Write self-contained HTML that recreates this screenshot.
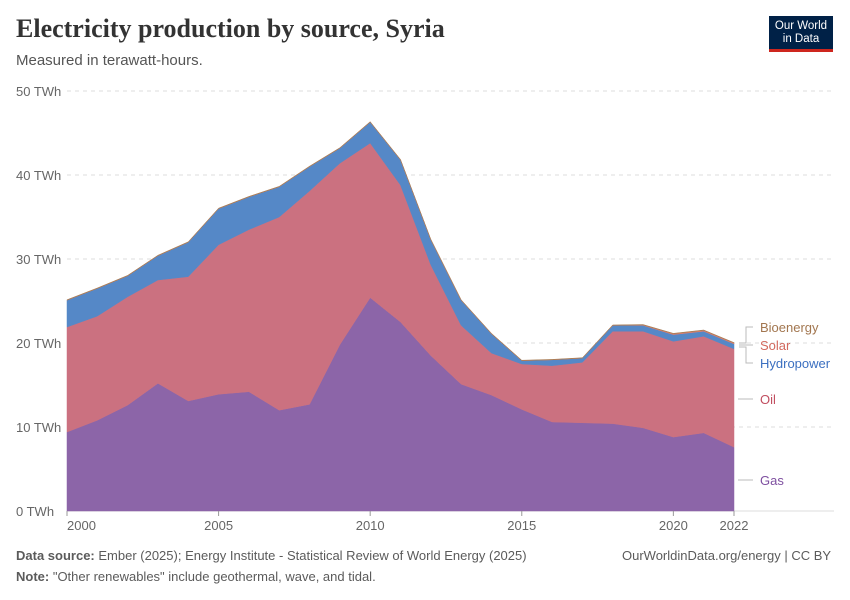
<!DOCTYPE html>
<html><head><meta charset="utf-8">
<style>
body{margin:0;background:#fff;font-family:"Liberation Sans",sans-serif;}
#wrap{position:relative;width:850px;height:600px;overflow:hidden;}
.title{position:absolute;left:16px;top:14px;font-family:"Liberation Serif",serif;font-size:26px;color:#333;font-weight:bold;}
.sub{position:absolute;left:16px;top:52px;font-size:15px;color:#555;}
.logo{position:absolute;left:769px;top:16px;width:64px;height:36px;background:#002147;color:#fff;font-size:11.5px;text-align:center;line-height:13px;padding-top:4px;box-sizing:border-box;border-bottom:3px solid #ce261e;}
.foot{position:absolute;font-size:13px;color:#5b5b5b;}
</style></head><body>
<div id="wrap">
<div class="title">Electricity production by source, Syria</div>
<div class="sub">Measured in terawatt-hours.</div>
<div class="logo">Our World<br>in Data</div>
<svg id="chart" width="850" height="600" style="position:absolute;left:0;top:0"></svg>
<div class="foot" style="left:16px;top:548px"><b>Data source:</b> Ember (2025); Energy Institute - Statistical Review of World Energy (2025)</div>
<div class="foot" style="left:622px;top:548px">OurWorldinData.org/energy | CC BY</div>
<div class="foot" style="left:16px;top:569px"><b>Note:</b> "Other renewables" include geothermal, wave, and tidal.</div>
</div>
<script>
const years=[2000,2001,2002,2003,2004,2005,2006,2007,2008,2009,2010,2011,2012,2013,2014,2015,2016,2017,2018,2019,2020,2021,2022];
const gas=[9.4,10.8,12.6,15.2,13.1,13.9,14.2,12.0,12.7,19.8,25.4,22.5,18.5,15.1,13.8,12.1,10.6,10.5,10.4,9.9,8.8,9.3,7.6];
const oil=[12.5,12.4,12.9,12.3,14.8,17.8,19.3,23.0,25.4,21.6,18.4,16.3,10.8,7.0,5.0,5.4,6.7,7.2,11.0,11.5,11.4,11.5,11.7];
const hydro=[3.2,3.3,2.5,2.9,4.1,4.3,3.9,3.6,2.9,1.8,2.5,3.0,3.0,3.0,2.3,0.4,0.7,0.5,0.7,0.7,0.8,0.6,0.6];
const solar=[0,0,0,0,0,0,0,0,0,0,0,0,0,0,0,0,0,0,0,0.05,0.1,0.1,0.1];
const bio=[0.05,0.05,0.05,0.05,0.05,0.05,0.05,0.05,0.05,0.05,0.05,0.05,0.05,0.05,0.05,0.05,0.05,0.05,0.05,0.05,0.05,0.05,0.05];
const yTicks=[0,10,20,30,40,50];
const xTicks=[2000,2005,2010,2015,2020,2022];
const series=[["Gas",gas,"#8c65a8"],["Oil",oil,"#cb7180"],["Hydropower",hydro,"#5588c7"],["Solar",solar,"#e07c6e"],["Bioenergy",bio,"#a97e55"]];
const NS="http://www.w3.org/2000/svg";
const svg=document.getElementById('chart');
const X=v=>67+(v-2000)*(734-67)/22;
const Y=v=>511-v*8.4;
function mk(t,a,p){const e=document.createElementNS(NS,t);for(const k in a)e.setAttribute(k,a[k]);(p||svg).appendChild(e);return e;}
yTicks.forEach(t=>{
 const l=mk('line',{x1:67,x2:834,y1:Y(t),y2:Y(t),stroke:'#ddd','stroke-dasharray':t?'4,4':'none'});
 
 
 const tx=mk('text',{x:16,y:Y(t)+5,'font-size':13,fill:'#666'});tx.textContent=t+' TWh';
 
 
});
let base=years.map(()=>0);
series.forEach(([name,vals,col])=>{
 const top=base.map((b,i)=>b+vals[i]);
 let d='M'+years.map((y,i)=>X(y)+','+Y(top[i])).join('L');
 for(let i=years.length-1;i>=0;i--)d+='L'+X(years[i])+','+Y(base[i]);
 const p=mk('path',{d:d+'Z',fill:col,stroke:col,'stroke-width':0.5});
 
 
 base=top;
});
xTicks.forEach(t=>{
 mk('line',{x1:X(t),x2:X(t),y1:511,y2:516,stroke:'#999'});
 const tx=mk('text',{x:X(t),y:530,'font-size':13,fill:'#666','text-anchor':t===2000?'start':'middle'});
 if(t===2000)tx.setAttribute('x',X(t)-0);
 tx.textContent=t;
 
 
});
const labels=[["Bioenergy",327,"#a2764f"],["Solar",345,"#d2695e"],["Hydropower",363,"#3b6fc0"],["Oil",399,"#c14e60"],["Gas",480,"#7e4fa0"]];
labels.forEach(([n,y,c])=>{
 const tx=mk('text',{x:760,y:y+5,'font-size':13,fill:c});tx.textContent=n;
 
 
});
mk('path',{d:'M739,343 H746 V327 H753 M739,345 H753 M739,347 H746 V363 H753 M738,399 H753 M738,480 H753',fill:'none',stroke:'#bbb'});
</script>
</body></html>
